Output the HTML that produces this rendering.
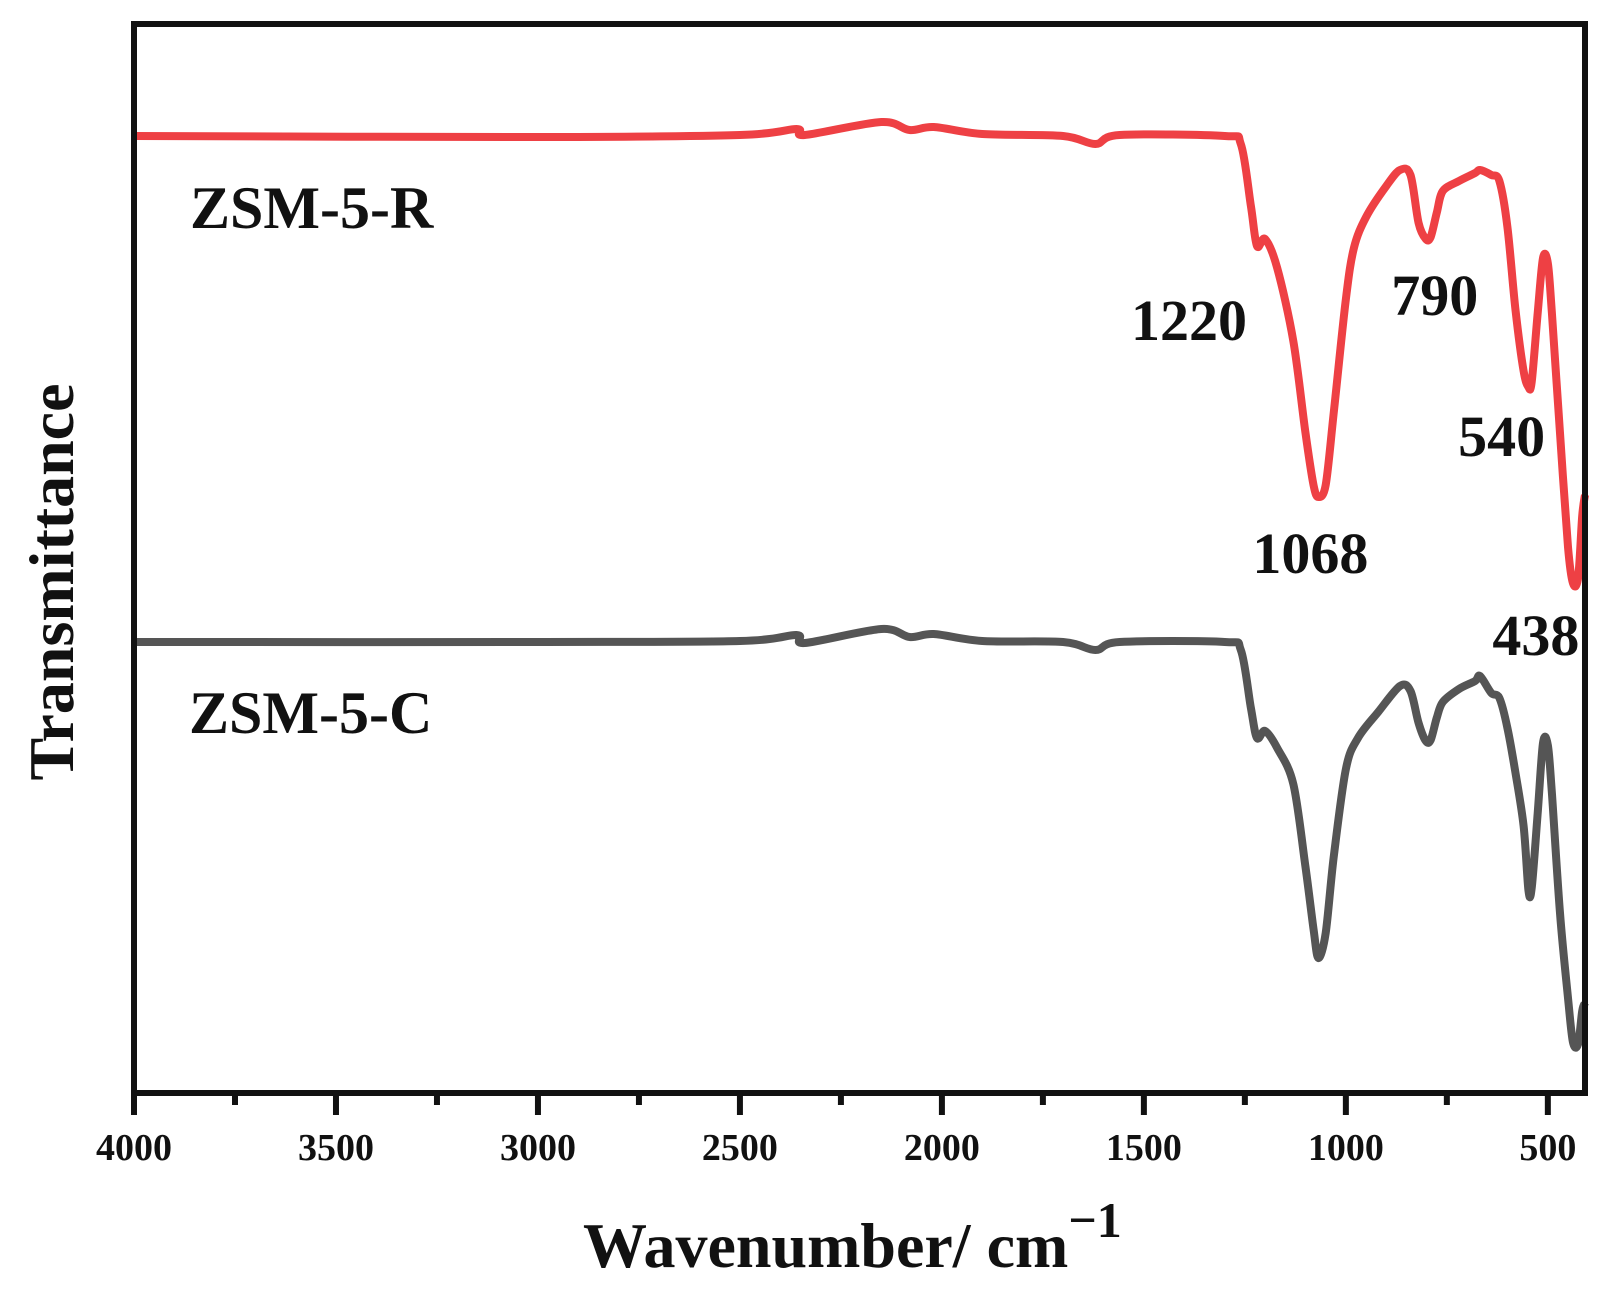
<!DOCTYPE html>
<html><head><meta charset="utf-8"><style>
html,body{margin:0;padding:0;background:#fff;}
svg{display:block;font-family:"Liberation Serif",serif;font-weight:bold;}
</style></head><body>
<svg id="chart" width="1610" height="1289" viewBox="0 0 1610 1289" xmlns="http://www.w3.org/2000/svg">
<g id="series"></g>
<g id="axes"></g>
<g id="labels"></g>
</svg>
<script>
const redWn = [4000,3000,2500,2360,2340,2150,2080,2020,1900,1700,1620,1560,1300,1260,1235,1220,1200,1170,1130,1100,1080,1068,1050,1030,1000,980,950,900,866,840,820,802,790,775,760,720,680,668,640,620,600,580,560,548,540,525,512,500,490,470,450,438,425,415,408];
const redVal = [95.7,95.6,95.8,96.4,95.8,97.1,96.3,96.6,95.9,95.7,94.9,95.8,95.7,94.9,88.7,84.7,85.4,82.5,75.2,66.0,60.8,59.6,60.8,68.0,79.4,84.5,87.6,90.7,92.3,91.8,87.0,85.4,85.6,88.0,90.2,91.2,92.0,92.3,91.8,91.2,86.6,78.3,72.2,70.6,71.1,78.0,83.5,83.0,78.0,66.0,54.6,51.0,51.5,57.7,59.8];
const grayWn = [4000,3000,2500,2360,2340,2150,2080,2020,1900,1700,1620,1560,1300,1260,1235,1220,1200,1170,1130,1100,1080,1068,1050,1030,1000,970,920,866,840,820,802,790,775,760,720,680,668,640,620,600,580,560,548,540,525,512,500,490,470,450,438,425,415,408];
const grayVal = [45.1,45.1,45.2,45.8,45.0,46.4,45.6,45.9,45.2,45.1,44.3,45.1,45.1,44.3,38.5,35.5,36.2,34.5,30.9,22.6,16.4,13.5,16.0,23.6,32.4,35.5,38.1,40.7,40.2,37.0,35.2,35.3,37.5,39.1,40.4,41.2,41.7,40.0,39.5,36.5,32.0,26.7,20.3,20.5,28.0,35.0,34.8,30.0,18.0,9.5,5.1,4.9,8.2,9.0];
const xTicks = [4000,3500,3000,2500,2000,1500,1000,500];
const xMinor = [3750,3250,2750,2250,1750,1250,750];
const peakLabels = ["1220","790","540","1068","438"];
const peakWn = [1220,790,540,1068,438];
const peakVal = [75.3,77.8,63.7,52.0,43.8];

const L=134,R=1585,T=24,B=1093;
const wnMax=4000,wnMin=408,vMin=0,vMax=106.9;
const X=w=>L+(wnMax-w)/(wnMax-wnMin)*(R-L);
const Y=v=>B-(v-vMin)/(vMax-vMin)*(B-T);
const NS="http://www.w3.org/2000/svg";
function mk(tag,attrs,parent){const e=document.createElementNS(NS,tag);for(const k in attrs)e.setAttribute(k,attrs[k]);parent.appendChild(e);return e;}
function pathFor(ws,vs){
  const p=ws.map((w,i)=>[X(w),Y(vs[i])]);
  let d="M"+p[0][0].toFixed(1)+","+p[0][1].toFixed(1);
  for(let i=0;i<p.length-1;i++){
    const p0=p[Math.max(0,i-1)],p1=p[i],p2=p[i+1],p3=p[Math.min(p.length-1,i+2)];
    const t=0.16;
    const c1=[p1[0]+(p2[0]-p0[0])*t,p1[1]+(p2[1]-p0[1])*t];
    const c2=[p2[0]-(p3[0]-p1[0])*t,p2[1]-(p3[1]-p1[1])*t];
    d+=" C"+c1.map(n=>n.toFixed(1))+" "+c2.map(n=>n.toFixed(1))+" "+p2.map(n=>n.toFixed(1));
  }
  return d;
}
const sg=document.getElementById('series');
const rp=mk('path',{d:pathFor(redWn,redVal),fill:'none',stroke:'#ee4044','stroke-width':8,'stroke-linejoin':'round'},sg);


const gp=mk('path',{d:pathFor(grayWn,grayVal),fill:'none',stroke:'#555555','stroke-width':8,'stroke-linejoin':'round'},sg);



const ag=document.getElementById('axes');
const frame=mk('rect',{x:L,y:T,width:R-L,height:B-T,fill:'none',stroke:'#111','stroke-width':6},ag);


xTicks.forEach(w=>{
  const t=mk('line',{x1:X(w),x2:X(w),y1:B,y2:B+22,stroke:'#111','stroke-width':6},ag);
  
  
  const tx=mk('text',{x:X(w),y:1160,'text-anchor':'middle','font-size':38,fill:'#111'},ag);
  tx.textContent=w;
  
  
});
xMinor.forEach(w=>{
  const t=mk('line',{x1:X(w),x2:X(w),y1:B,y2:B+12,stroke:'#111','stroke-width':6},ag);
  
  
});

const lg=document.getElementById('labels');
peakLabels.forEach((s,i)=>{
  const anchors={"1220":"end","790":"middle","540":"middle","1068":"middle","438":"middle"};
  const dx={"1220":-10,"790":4,"540":-30,"1068":-8,"438":-37};
  const t=mk('text',{x:X(peakWn[i])+dx[s],y:Y(peakVal[i]),'text-anchor':anchors[s],'font-size':58,fill:'#111'},lg);
  t.textContent=s;
  
  
});
</script>
<svg style="position:absolute;left:0;top:0" width="1610" height="1289">
<text x="190" y="228" font-family="Liberation Serif, serif" font-weight="bold" font-size="60" fill="#111">ZSM-5-R</text>
<text x="189" y="733" font-family="Liberation Serif, serif" font-weight="bold" font-size="60" fill="#111">ZSM-5-C</text>
<text x="583" y="1267" font-family="Liberation Serif, serif" font-weight="bold" font-size="64" fill="#111">Wavenumber/ cm<tspan dy="-30" font-size="50">−1</tspan></text>
<text transform="translate(73,582) rotate(-90)" text-anchor="middle" font-family="Liberation Serif, serif" font-weight="bold" font-size="64" fill="#111">Transmittance</text>
</svg>
</body></html>
